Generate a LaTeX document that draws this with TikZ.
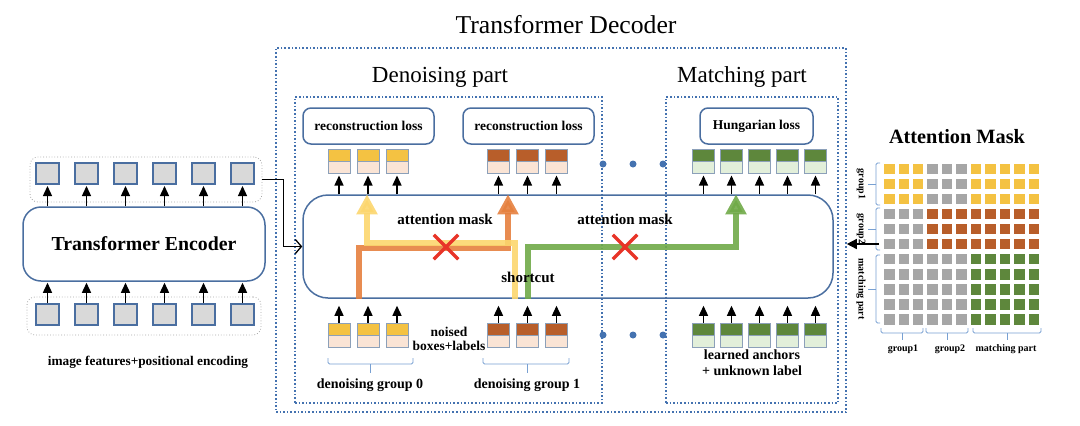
\documentclass[tikz,border=0pt]{standalone}
\usepackage{fontspec}
\setmainfont{Liberation Serif}
\usepackage{tikz}
\usetikzlibrary{arrows.meta, positioning, shapes.misc}

\definecolor{frameblue}{RGB}{68,114,176}
\definecolor{boxblue}{RGB}{74,110,160}
\definecolor{tokline}{RGB}{140,160,185}
\definecolor{tokyellow}{RGB}{244,194,66}
\definecolor{tokpeach}{RGB}{250,228,213}
\definecolor{tokbrown}{RGB}{184,94,42}
\definecolor{tokgreen}{RGB}{94,135,60}
\definecolor{toklgreen}{RGB}{226,239,218}
\definecolor{encgray}{RGB}{217,217,217}
\definecolor{maskgray}{RGB}{166,166,166}
\definecolor{pathyellow}{RGB}{252,214,110}
\definecolor{pathorange}{RGB}{229,128,62}
\definecolor{pathgreen}{RGB}{112,170,72}
\definecolor{crossred}{RGB}{232,52,40}
\definecolor{bracecol}{RGB}{120,160,210}

\tikzstyle{dotframe} = [draw=frameblue, line width=1.6pt, dotted, inner sep=0pt]
\tikzstyle{tokframe} = [draw=gray!70, line width=0.8pt, dotted, rounded corners=8pt, inner sep=0pt]
\tikzstyle{block} = [draw=boxblue, line width=1.5pt, inner sep=0pt]
\tikzstyle{lossbox} = [block, rounded corners=8pt, fill=white, minimum height=36pt, font=\fontsize{13.5}{15}\selectfont\bfseries]
\tikzstyle{enctok} = [draw=boxblue, line width=2pt, fill=encgray, minimum width=23pt, minimum height=21pt, inner sep=0pt]
\tikzstyle{cell} = [minimum size=10.5pt, inner sep=0pt]
\tikzstyle{dotc} = [circle, fill=frameblue, minimum size=7pt, inner sep=0pt]
\tikzstyle{tokarrow} = [line width=1.3pt, -{Triangle[width=9pt,length=10pt]}]
\tikzstyle{encarrow} = [line width=1.3pt, -{Straight Barb[length=6pt,width=14pt]}]
\tikzstyle{maskarrow} = [line width=1.5pt, -{Triangle[width=10pt,length=10pt]}]
\tikzstyle{flow} = [line width=6pt, opacity=0.9, -{Triangle[width=20pt,length=20pt]}]
\tikzstyle{crossx} = [cross out, draw=crossred, line width=3.5pt, minimum size=21pt, inner sep=0pt]
\tikzstyle{bracket} = [draw=bracecol, line width=0.9pt, rounded corners=1.5pt]
\tikzstyle{lbl} = [inner sep=0pt, font=\fontsize{14}{16}\selectfont\bfseries]
\tikzstyle{midlbl} = [inner sep=0pt, font=\fontsize{15}{17}\selectfont\bfseries]
\tikzstyle{masklbl} = [inner sep=0pt, font=\fontsize{10}{11}\selectfont\bfseries]

\tikzset{tok/.style 2 args={draw=tokline, line width=1pt, fill=#2, minimum width=22pt, minimum height=24pt, inner sep=0pt,
  path picture={\fill[#1] (path picture bounding box.north west) rectangle (path picture bounding box.east);
    \draw[tokline, line width=1pt] (path picture bounding box.west) -- (path picture bounding box.east);}}}

\begin{document}
\begin{tikzpicture}[x=1pt, y=-1pt]
\useasboundingbox (0,0) rectangle (1080,426);

% Encoder side
\node (enctop) [tokframe, minimum width=232pt, minimum height=45pt] at (146,179.5) {};
\node (encbot) [tokframe, minimum width=234pt, minimum height=38pt] at (144,316) {};
\node (enc) [block, rounded corners=18pt, minimum width=242pt, minimum height=74pt, font=\fontsize{19.8}{22}\selectfont\bfseries] at (144,244) {Transformer Encoder};
\foreach \i/\x in {1/47.5,2/86.5,3/125.5,4/164.5,5/203.5,6/242.5} {
  \node (eo\i) [enctok] at (\x,173.5) {};
  \node (ei\i) [enctok] at (\x,314) {};
  \draw [tokarrow, shorten >=1pt] (eo\i.south |- enc.north) -- (eo\i.south);
  \draw [tokarrow, shorten >=1pt] (ei\i.north) -- (ei\i.north |- enc.south);
}
\node (imgfeat) [lbl, font=\fontsize{13.3}{15}\selectfont\bfseries] at (148,362) {image features+positional encoding};

% Decoder frames
\node (dectitle) [font=\fontsize{25.7}{28}\selectfont] at (566,25) {Transformer Decoder};
\node (decout) [dotframe, minimum width=570pt, minimum height=364pt] at (561,230) {};
\node (dnpart) [dotframe, minimum width=307pt, minimum height=306pt] at (448.5,250) {};
\node (mtpart) [dotframe, minimum width=172pt, minimum height=306pt] at (752,250) {};
\node (dntitle) [font=\fontsize{23}{26}\selectfont] at (440,77) {Denoising part};
\node (mttitle) [font=\fontsize{23}{26}\selectfont] at (742,77) {Matching part};
\node (dec) [block, rounded corners=25pt, minimum width=530pt, minimum height=103pt] at (568,246.5) {};

% Loss boxes
\node (rec0) [lossbox, minimum width=131pt] at (368.5,126) {reconstruction loss};
\node (rec1) [lossbox, minimum width=131pt] at (528.5,126) {reconstruction loss};
\node (hung) [lossbox, minimum width=113pt] at (756.5,126) {Hungarian loss};

% Query tokens, outputs and inputs
\foreach \i/\x in {1/339,2/368,3/397} {
  \node (a\i) [tok={tokyellow}{tokpeach}] at (\x,161) {};
  \node (p\i) [tok={tokyellow}{tokpeach}] at (\x,335) {};
  \draw [tokarrow, shorten >=2pt] (a\i.south |- dec.north) -- (a\i.south);
  \draw [tokarrow, shorten >=7pt] (p\i.north) -- (p\i.north |- dec.south);
}
\foreach \i/\x in {1/498.5,2/527.5,3/556.5} {
  \node (b\i) [tok={tokbrown}{tokpeach}] at (\x,161) {};
  \node (q\i) [tok={tokbrown}{tokpeach}] at (\x,335) {};
  \draw [tokarrow, shorten >=2pt] (b\i.south |- dec.north) -- (b\i.south);
  \draw [tokarrow, shorten >=7pt] (q\i.north) -- (q\i.north |- dec.south);
}
\foreach \i/\x in {1/703.5,2/731.5,3/759.5,4/787.5,5/815.5} {
  \node (c\i) [tok={tokgreen}{toklgreen}] at (\x,161) {};
  \node (r\i) [tok={tokgreen}{toklgreen}] at (\x,335) {};
  \draw [tokarrow, shorten >=2pt] (c\i.south |- dec.north) -- (c\i.south);
  \draw [tokarrow, shorten >=7pt] (r\i.north) -- (r\i.north |- dec.south);
}
\foreach \x in {603,633,663} {
  \node (dt\x) [dotc] at (\x,164) {};
  \node (db\x) [dotc] at (\x,335) {};
}

% Attention paths inside the decoder
\draw [flow, pathorange] (359,0 |- dec.south) -- (359,248) -- (508,248) -- (508,0 |- dec.north);
\draw [flow, pathyellow] (515,0 |- dec.south) -- (515,243) -- (367,243) -- (367,0 |- dec.north);
\draw [flow, pathgreen] (528,0 |- dec.south) -- (528,247) -- (736,247) -- (736,0 |- dec.north);
\node (x1) [crossx] at (446,247) {};
\node (x2) [crossx] at (625,247) {};
\node (am1) [midlbl] at (445,219) {attention mask};
\node (am2) [midlbl] at (625,219) {attention mask};
\node (shc) [midlbl] at (528,277) {shortcut};

% Encoder to decoder
\draw [encarrow] (enctop.east) -- ++(21,0) |- (dec.west);

% Labels under the queries
\node (noised) [lbl, align=center, font=\fontsize{13.5}{13.5}\selectfont\bfseries] at (449,339) {noised\\boxes+labels};
\node (learned) [lbl, align=center] at (752,363) {learned anchors\\+ unknown label};
\draw [bracket] (328,358) -- (328,364) -- (413,364) -- (413,358);
\draw [bracket] (370,364) -- (370,373);
\draw [bracket] (483,358) -- (483,364) -- (569,364) -- (569,358);
\draw [bracket] (527,364) -- (527,373);
\node (dg0) [lbl] at (370,385) {denoising group 0};
\node (dg1) [lbl] at (527,385) {denoising group 1};

% Attention mask
\node (masktitle) [inner sep=0pt, font=\fontsize{20.3}{23}\selectfont\bfseries] at (957,137) {Attention Mask};
\foreach \r in {0,...,10} {
  \foreach \c in {0,...,10} {
    \ifnum\r<3
      \ifnum\c<3 \def\mcol{tokyellow}\else\ifnum\c<6 \def\mcol{maskgray}\else\def\mcol{tokyellow}\fi\fi
    \else\ifnum\r<6
      \ifnum\c<3 \def\mcol{maskgray}\else\def\mcol{tokbrown}\fi
    \else
      \ifnum\c<6 \def\mcol{maskgray}\else\def\mcol{tokgreen}\fi
    \fi\fi
    \node (m-\r-\c) [cell, fill=\mcol] at ({889.3+14.47*\c},{168.8+15.07*\r}) {};
  }
}
\draw [bracket] (880,163) -- (876,163) -- (876,205) -- (880,205);
\draw [bracket] (876,184) -- (868,184);
\draw [bracket] (880,208) -- (876,208) -- (876,250) -- (880,250);
\draw [bracket] (876,229) -- (868,229);
\draw [bracket] (880,255) -- (876,255) -- (876,323) -- (880,323);
\draw [bracket] (876,289) -- (868,289);
\node (lg1) [masklbl, rotate=-90] at (861,184) {group1};
\node (lg2) [masklbl, rotate=-90] at (861,229) {group2};
\node (lgm) [masklbl, rotate=-90] at (861,289) {matching part};
\draw [bracket] (881,328) -- (881,333) -- (923,333) -- (923,328);
\draw [bracket] (902,333) -- (902,340);
\draw [bracket] (926,328) -- (926,333) -- (968,333) -- (968,328);
\draw [bracket] (947,333) -- (947,340);
\draw [bracket] (973,328) -- (973,333) -- (1041,333) -- (1041,328);
\draw [bracket] (1007,333) -- (1007,340);
\node (bg1) [masklbl] at (903,349) {group1};
\node (bg2) [masklbl] at (950,349) {group2};
\node (bgm) [masklbl] at (1006,349) {matching part};
\coordinate (maskin) at (879,244);
\draw [maskarrow] (maskin) -- (maskin -| decout.east);

\end{tikzpicture}
\end{document}
